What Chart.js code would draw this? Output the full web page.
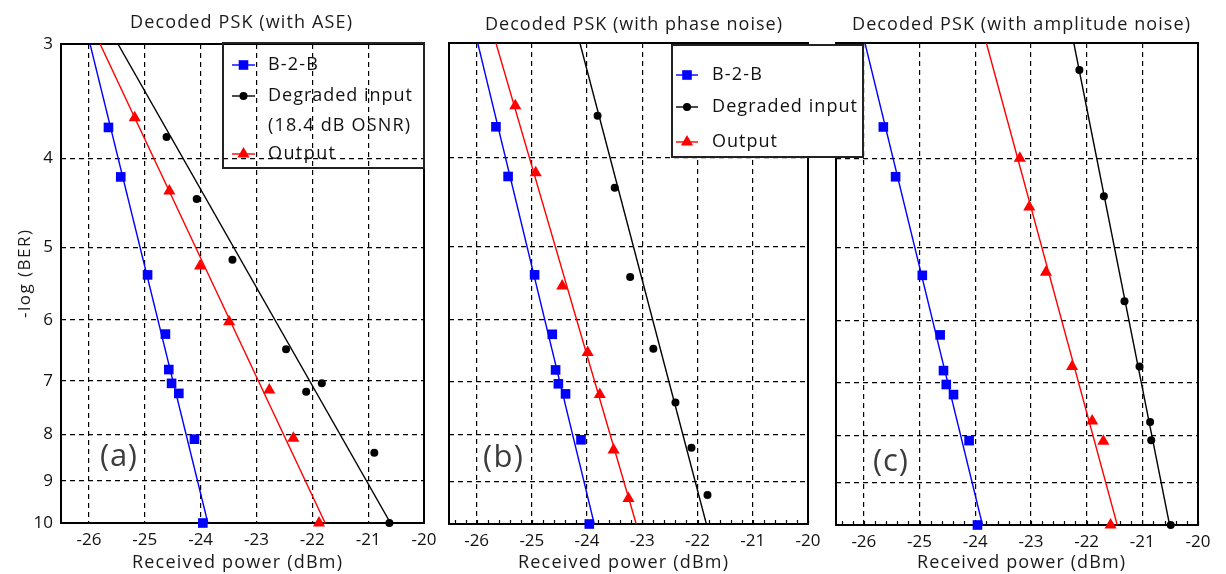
<!DOCTYPE html>
<html>
<head>
<meta charset="utf-8">
<script src="https://cdn.jsdelivr.net/npm/chart.js@4.4.0/dist/chart.umd.min.js"></script>
<style>
  html, body { margin: 0; padding: 0; background: #fff; }
  #wrap { position: relative; width: 1226px; height: 574px; overflow: hidden; }
  canvas { position: absolute; left: 0; top: 0; }
</style>
</head>
<body>
<div id="wrap">
  <canvas id="panelC" width="1226" height="574"></canvas>
  <canvas id="panelA" width="1226" height="574"></canvas>
  <canvas id="panelB" width="1226" height="574"></canvas>
</div>
<script>
// tick labels
const powerTicks = [-26, -25, -24, -23, -22, -21, -20];
const berTicks = [3, 4, 5, 6, 7, 8, 9, 10];
const fitBer = [3, 10];

// B-2-B reference, same in all three panels
const b2bPower = [-25.65, -25.43, -24.95, -24.63, -24.57, -24.52, -24.39, -24.11, -23.96];
const b2bBer = [3.70, 4.19, 5.36, 6.22, 6.80, 7.04, 7.22, 8.10, 10];
const b2bFit = [-25.98, -23.87];

// (a) with ASE
const aseInPower = [-24.61, -24.07, -23.43, -22.47, -22.11, -21.83, -20.89, -20.62];
const aseInBer = [3.79, 4.43, 5.16, 6.46, 7.19, 7.04, 8.38, 10];
const aseInFit = [-25.48, -20.60];
const aseOutPower = [-25.18, -24.56, -24.01, -23.49, -22.77, -22.34, -21.88];
const aseOutBer = [3.61, 4.34, 5.24, 6.03, 7.16, 8.08, 10];
const aseOutFit = [-25.80, -21.77];

// (b) with phase noise
const phaseInPower = [-23.81, -23.50, -23.22, -22.80, -22.40, -22.11, -21.82];
const phaseInBer = [3.60, 4.31, 5.39, 6.45, 7.38, 8.26, 9.30];
const phaseInFit = [-24.13, -21.84];
const phaseOutPower = [-25.30, -24.93, -24.45, -23.99, -23.77, -23.52, -23.25];
const phaseOutBer = [3.51, 4.15, 5.51, 6.51, 7.23, 8.31, 9.38];
const phaseOutFit = [-25.65, -23.11];

// (c) with amplitude noise
const ampInPower = [-22.13, -21.69, -21.32, -21.05, -20.86, -20.84, -20.49];
const ampInBer = [3.21, 4.40, 5.72, 6.73, 7.73, 8.09, 10];
const ampInFit = [-22.23, -20.51];
const ampOutPower = [-23.20, -23.03, -22.73, -22.26, -21.90, -21.70, -21.57];
const ampOutBer = [4.00, 4.52, 5.32, 6.73, 7.71, 8.11, 10];
const ampOutFit = [-23.80, -21.45];

const W = 1226, H = 574;
const FONT = "'Open Sans', Lato, sans-serif";
const BLUE = "#0000ff", RED = "#ff0000", BLACK = "#000000";

function fitText(ctx, text, x0, x1, y, size, color) {
  ctx.save();
  ctx.font = size + "px " + FONT;
  ctx.fillStyle = color || "#222";
  ctx.textBaseline = "middle";
  ctx.textAlign = "left";
  const w = ctx.measureText(text).width;
  if ("letterSpacing" in ctx && text.length > 1) {
    ctx.letterSpacing = ((x1 - x0 - w) / (text.length - 1)) + "px";
  }
  ctx.fillText(text, x0, y);
  ctx.restore();
}

function drawMarker(ctx, style, x, y, color) {
  ctx.save();
  ctx.fillStyle = color;
  ctx.beginPath();
  if (style === "rect") {
    ctx.rect(x - 4.8, y - 4.8, 9.6, 9.6);
  } else if (style === "triangle") {
    ctx.moveTo(x, y - 7);
    ctx.lineTo(x + 6.06, y + 3.5);
    ctx.lineTo(x - 6.06, y + 3.5);
    ctx.closePath();
  } else {
    ctx.arc(x, y, 4, 0, Math.PI * 2);
  }
  ctx.fill();
  ctx.restore();
}

function drawLegend(ctx, lg) {
  ctx.save();
  if (lg.fill) {
    ctx.fillStyle = "#fff";
    ctx.fillRect(lg.box[0], lg.box[1], lg.box[2] - lg.box[0], lg.box[3] - lg.box[1]);
  }
  ctx.strokeStyle = "#222";
  ctx.lineWidth = 2;
  ctx.strokeRect(lg.box[0], lg.box[1], lg.box[2] - lg.box[0], lg.box[3] - lg.box[1]);
  ctx.restore();
  lg.items.forEach(it => {
    if (it.color) {
      ctx.save();
      ctx.strokeStyle = it.color;
      ctx.lineWidth = 1.4;
      ctx.beginPath();
      ctx.moveTo(lg.line[0], it.y);
      ctx.lineTo(lg.line[1], it.y);
      ctx.stroke();
      ctx.restore();
      drawMarker(ctx, it.style, (lg.line[0] + lg.line[1]) / 2, it.y, it.color);
    }
    fitText(ctx, it.text, lg.textX, lg.textX + it.w, it.y, 18, "#111");
  });
}

function makePanel(id, area, series, deco) {
  const datasets = [];
  series.forEach(s => {
    datasets.push({
      type: "line",
      data: s.fit.map((p, i) => ({ x: p, y: fitBer[i] })),
      borderColor: s.color,
      borderWidth: 1.4,
      pointRadius: 0,
      fill: false,
      tension: 0
    });
    datasets.push({
      type: "scatter",
      data: s.power.map((p, i) => ({ x: p, y: s.ber[i] })),
      pointStyle: s.style,
      pointRadius: s.radius,
      backgroundColor: s.color,
      borderColor: s.color,
      borderWidth: 0,
      clip: false
    });
  });

  const panelPlugin = {
    id: "panelDeco",
    beforeDatasetsDraw(chart) {
      const ctx = chart.ctx, a = chart.chartArea;
      ctx.save();
      ctx.strokeStyle = "#000";
      ctx.lineWidth = 2;
      ctx.strokeRect(a.left, a.top, a.right - a.left, a.bottom - a.top);
      if (deco.minor) {
        const xs = chart.scales.x;
        ctx.lineWidth = 1.2;
        ctx.beginPath();
        for (let k = -264; k <= -200; k += 2) {
          const px = Math.round(xs.getPixelForValue(k / 10)) + 0.5;
          ctx.moveTo(px, a.bottom);
          ctx.lineTo(px, a.bottom - 4);
        }
        ctx.stroke();
      }
      ctx.restore();
    },
    afterDraw(chart) {
      const ctx = chart.ctx;
      const t = deco.title;
      fitText(ctx, t.text, t.x0, t.x1, t.y, 18, "#1a1a1a");
      const xl = deco.xLabel;
      fitText(ctx, "Received power (dBm)", xl[0], xl[1], 563, 18, "#1a1a1a");
      if (deco.yLabel) {
        ctx.save();
        ctx.translate(25, 274);
        ctx.rotate(-Math.PI / 2);
        fitText(ctx, "-log (BER)", -44, 44, 0, 17, "#1a1a1a");
        ctx.restore();
      }
      const L = deco.letter;
      fitText(ctx, L.text, L.x0, L.x1, L.y, 31, "#3c3c3c");
      if (deco.legend) drawLegend(ctx, deco.legend);
    }
  };

  return new Chart(document.getElementById(id), {
    type: "scatter",
    data: { datasets: datasets },
    options: {
      responsive: false,
      animation: false,
      devicePixelRatio: 1,
      layout: { padding: { top: area.top, right: W - area.right, bottom: 0, left: 0 } },
      plugins: { legend: { display: false }, tooltip: { enabled: false }, title: { display: false } },
      scales: {
        x: {
          type: "linear",
          min: -26.5,
          max: -20,
          afterBuildTicks: s => { s.ticks = powerTicks.map(v => ({ value: v })); },
          afterFit: s => { s.height = H - area.bottom; },
          grid: { color: "#000", lineWidth: 1.2, drawTicks: false },
          border: { display: false, dash: [5, 4] },
          ticks: {
            padding: 7,
            color: "#111",
            font: { family: FONT, size: 17 },
            callback: v => String(v)
          }
        },
        y: {
          type: "logarithmic",
          min: 3,
          max: 10,
          reverse: true,
          afterBuildTicks: s => { s.ticks = berTicks.map(v => ({ value: v })); },
          afterFit: s => { s.width = area.left; },
          grid: { color: "#000", lineWidth: 1.2, drawTicks: false },
          border: { display: false, dash: [5, 4] },
          ticks: {
            display: deco.yTicks,
            padding: 8,
            color: "#111",
            font: { family: FONT, size: 17 },
            callback: v => String(v)
          }
        }
      }
    },
    plugins: [panelPlugin]
  });
}

const b2bSeries = { power: b2bPower, ber: b2bBer, fit: b2bFit, color: BLUE, style: "rect", radius: 6.8 };

makePanel("panelC", { left: 836, right: 1198, top: 43, bottom: 525 }, [
  b2bSeries,
  { power: ampOutPower, ber: ampOutBer, fit: ampOutFit, color: RED, style: "triangle", radius: 7 },
  { power: ampInPower, ber: ampInBer, fit: ampInFit, color: BLACK, style: "circle", radius: 4 }
], {
  title: { text: "Decoded PSK (with amplitude noise)", x0: 852, x1: 1190, y: 25 },
  xLabel: [917, 1125],
  yLabel: false,
  yTicks: false,
  minor: true,
  letter: { text: "(c)", x0: 873, x1: 908, y: 462 }
});

makePanel("panelA", { left: 61, right: 424, top: 44, bottom: 523 }, [
  b2bSeries,
  { power: aseOutPower, ber: aseOutBer, fit: aseOutFit, color: RED, style: "triangle", radius: 7 },
  { power: aseInPower, ber: aseInBer, fit: aseInFit, color: BLACK, style: "circle", radius: 4 }
], {
  title: { text: "Decoded PSK (with ASE)", x0: 130, x1: 352, y: 23 },
  xLabel: [132, 342],
  yLabel: true,
  yTicks: true,
  minor: false,
  letter: { text: "(a)", x0: 100, x1: 137, y: 457 },
  legend: {
    fill: false,
    box: [223, 43, 424, 168],
    line: [232, 255],
    textX: 268,
    items: [
      { text: "B-2-B", w: 50, y: 65, color: BLUE, style: "rect" },
      { text: "Degraded input", w: 144, y: 96, color: BLACK, style: "circle" },
      { text: "(18.4 dB OSNR)", w: 142, y: 126 },
      { text: "Output", w: 67, y: 154, color: RED, style: "triangle" }
    ]
  }
});

makePanel("panelB", { left: 449, right: 808, top: 43, bottom: 524 }, [
  b2bSeries,
  { power: phaseOutPower, ber: phaseOutBer, fit: phaseOutFit, color: RED, style: "triangle", radius: 7 },
  { power: phaseInPower, ber: phaseInBer, fit: phaseInFit, color: BLACK, style: "circle", radius: 4 }
], {
  title: { text: "Decoded PSK (with phase noise)", x0: 485, x1: 782, y: 25 },
  xLabel: [518, 728],
  yLabel: false,
  yTicks: false,
  minor: true,
  letter: { text: "(b)", x0: 483, x1: 523, y: 458 },
  legend: {
    fill: true,
    box: [672, 45, 863, 157],
    line: [676, 698],
    textX: 712,
    items: [
      { text: "B-2-B", w: 50, y: 75, color: BLUE, style: "rect" },
      { text: "Degraded input", w: 145, y: 107, color: BLACK, style: "circle" },
      { text: "Output", w: 65, y: 142, color: RED, style: "triangle" }
    ]
  }
});
</script>
</body>
</html>
